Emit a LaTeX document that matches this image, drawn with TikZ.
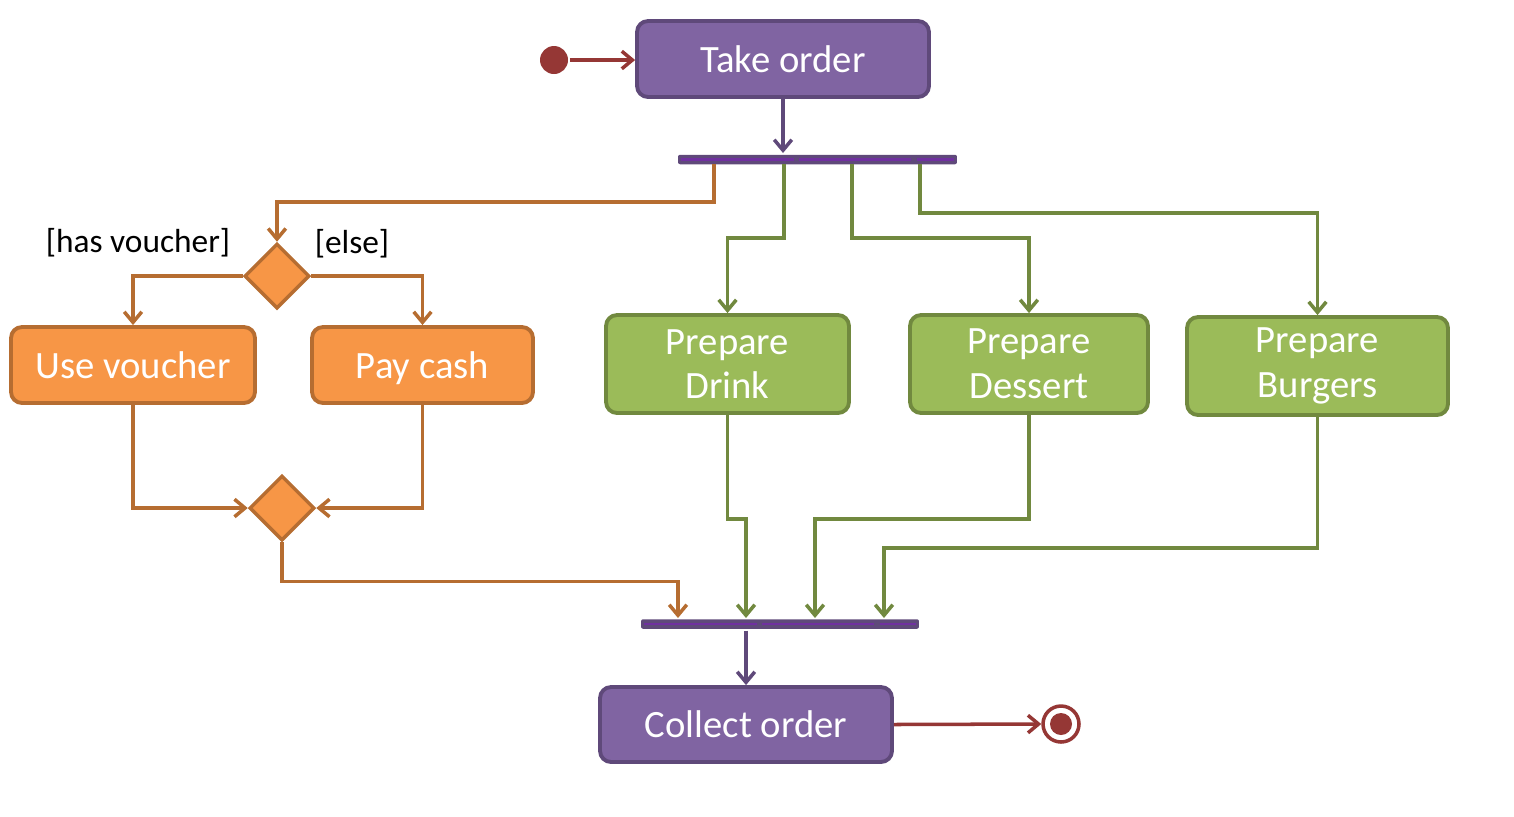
\documentclass[tikz,border=0pt]{standalone}
\usepackage{fontspec}
\setmainfont{Carlito}
\usepackage{tikz}
\usetikzlibrary{arrows.meta, shapes.geometric}

\definecolor{startred}{HTML}{953735}
\definecolor{actpurple}{HTML}{8064A2}
\definecolor{actpurpleline}{HTML}{5F497A}
\definecolor{barpurple}{HTML}{7030A0}
\definecolor{payorange}{HTML}{F79646}
\definecolor{payorangeline}{HTML}{B66D31}
\definecolor{prepgreen}{HTML}{9BBB59}
\definecolor{prepgreenline}{HTML}{71893F}

\tikzset{
  activity/.style = {rectangle, rounded corners=0.22cm, line width=2.2pt,
                     text=white, align=center, inner sep=0pt,
                     font=\fontsize{22}{25.5}\selectfont},
  purplebox/.style = {activity, fill=actpurple, draw=actpurpleline, text depth=0pt,
                      minimum width=5.84cm, minimum height=1.52cm},
  orangebox/.style = {activity, fill=payorange, draw=payorangeline, text depth=0pt,
                      minimum height=1.52cm},
  greenbox/.style = {activity, fill=prepgreen, draw=prepgreenline,
                     minimum height=1.96cm},
  decision/.style = {diamond, aspect=1, inner sep=0pt, minimum size=1.3cm,
                     fill=payorange, draw=payorangeline, line width=2pt},
  forkbar/.style = {rectangle, fill=actpurpleline, rounded corners=0.04cm,
                    minimum height=0.19cm, inner sep=0pt},
  guard/.style = {font=\fontsize{19}{23}\selectfont, text=black},
  flow/.style = {line width=2pt, -{Straight Barb[length=6pt, width=10pt]}}
}

\begin{document}
\begin{tikzpicture}[x=0.02cm, y=-0.02cm, line width=2pt]
    \useasboundingbox (0, 0) rectangle (1514, 816);

    % draw start and end states
    \node[circle, fill=startred, minimum size=0.56cm, inner sep=0pt] (start) at (554, 60) {};
    \node[circle, draw=startred, fill=white, minimum size=0.72cm, inner sep=0pt] (stop) at (1061, 724) {};
    \fill[startred] (stop.center) circle (0.22cm);

    % draw activities
    \node[purplebox] (take) at (783, 59) {Take order};
    \node[orangebox, minimum width=4.88cm] (voucher) at (133, 365) {Use voucher};
    \node[orangebox, minimum width=4.42cm] (cash) at (422.5, 365) {Pay cash};
    \node[greenbox, minimum width=4.86cm] (drink) at (727.5, 364) {Prepare\\Drink};
    \node[greenbox, minimum width=4.76cm] (dessert) at (1029, 364) {Prepare\\Dessert};
    \node[greenbox, minimum width=5.22cm] (burgers) at (1317.5, 366) {Prepare\\Burgers};
    \node[purplebox, minimum height=1.5cm] (collect) at (746, 724.5) {Collect order};

    % draw decision and merge
    \node[decision] (choose) at (277, 276) {};
    \node[decision] (merge) at (282, 508) {};
    \node[guard] (hasvoucher) at (138, 243) {[has voucher]};
    \node[guard] (else) at (352, 244) {[else]};

    % draw fork and join bars
    \node[forkbar, minimum width=5.58cm] (fork) at (817.5, 159.5) {};
    \node[forkbar, minimum width=5.56cm] (join) at (780, 624) {};
    \draw[barpurple, line width=1.2pt, dash pattern=on 64 off 3]
      ([xshift=0.1cm]fork.west) -- ([xshift=-0.1cm]fork.east);
    \draw[barpurple, line width=1.2pt, dash pattern=on 64 off 3]
      ([xshift=0.1cm]join.west) -- ([xshift=-0.1cm]join.east);

    % taps on the bars
    \coordinate (fork1) at (714, 164);
    \coordinate (fork2) at (784, 164);
    \coordinate (fork3) at (852, 164);
    \coordinate (fork4) at (920, 164);
    \coordinate (join1) at (678, 618);
    \coordinate (join2) at (746, 618);
    \coordinate (join3) at (815, 618);
    \coordinate (join4) at (884, 618);

    % draw purple and red flows
    \draw[flow, startred] (start.east) -- (take.west |- start);
    \draw[flow, actpurpleline] (take.south) -- (take.south |- fork.north);
    \draw[flow, actpurpleline] (collect.north |- join.south) -- (collect.north);
    \draw[flow, startred] (collect.east) -- (stop.west);

    % draw payment flows
    \draw[flow, payorangeline] (fork1) -- ++(0, 38) -| (choose.north);
    \draw[flow, payorangeline] (choose.west) -| (voucher.north);
    \draw[flow, payorangeline] (choose.east) -| (cash.north);
    \draw[flow, payorangeline] (voucher.south) |- (merge.west);
    \draw[flow, payorangeline] (cash.south) |- (merge.east);
    \draw[flow, payorangeline] (merge.south) -- ++(0, 39) -| (join1);

    % draw food flows
    \draw[flow, prepgreenline] (fork2) -- ++(0, 74) -| (drink.north);
    \draw[flow, prepgreenline] (fork3) -- ++(0, 74) -| (dessert.north);
    \draw[flow, prepgreenline] (fork4) -- ++(0, 49) -| (burgers.north);
    \draw[flow, prepgreenline] (drink.south) -- ++(0, 104) -| (join2);
    \draw[flow, prepgreenline] (dessert.south) -- ++(0, 104) -| (join3);
    \draw[flow, prepgreenline] (burgers.south) -- ++(0, 131) -| (join4);
\end{tikzpicture}
\end{document}
